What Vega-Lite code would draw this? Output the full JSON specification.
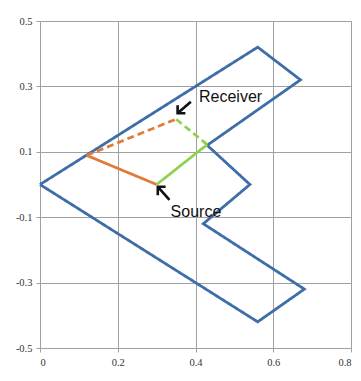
{
  "$schema": "https://vega.github.io/schema/vega-lite/v6.json",
  "autosize": {"type": "none"},
  "width": 311,
  "height": 327,
  "padding": {"left": 40, "top": 21, "right": 10, "bottom": 33},
  "background": "white",
  "config": {
    "view": {"stroke": null},
    "axis": {
      "gridColor": "#a0a0a0",
      "gridWidth": 1,
      "domain": false,
      "tickColor": "#a0a0a0",
      "tickSize": 4,
      "labelFont": "Liberation Sans Narrow",
      "labelFontSize": 10.5,
      "labelColor": "#333333",
      "title": null
    }
  },
  "datasets": {
    "lines": [
      {"s": "wall", "o": 0, "x": 0, "y": 0},
      {"s": "wall", "o": 1, "x": 0.56, "y": 0.42},
      {"s": "wall", "o": 2, "x": 0.67, "y": 0.32},
      {"s": "wall", "o": 3, "x": 0.43, "y": 0.12},
      {"s": "wall", "o": 4, "x": 0.54, "y": 0.0},
      {"s": "wall", "o": 5, "x": 0.42, "y": -0.12},
      {"s": "wall", "o": 6, "x": 0.68, "y": -0.32},
      {"s": "wall", "o": 7, "x": 0.56, "y": -0.42},
      {"s": "wall", "o": 8, "x": 0, "y": 0},
      {"s": "orange_solid", "o": 0, "x": 0.30, "y": 0.0},
      {"s": "orange_solid", "o": 1, "x": 0.12, "y": 0.089},
      {"s": "orange_dash", "o": 0, "x": 0.12, "y": 0.089},
      {"s": "orange_dash", "o": 1, "x": 0.35, "y": 0.2},
      {"s": "green_solid", "o": 0, "x": 0.30, "y": 0.0},
      {"s": "green_solid", "o": 1, "x": 0.43, "y": 0.122},
      {"s": "green_dash", "o": 0, "x": 0.43, "y": 0.122},
      {"s": "green_dash", "o": 1, "x": 0.35, "y": 0.2},
      {"s": "arr_r_shaft", "o": 0, "x": 0.388, "y": 0.253},
      {"s": "arr_r_shaft", "o": 1, "x": 0.354, "y": 0.218},
      {"s": "arr_r_head", "o": 0, "x": 0.354, "y": 0.242},
      {"s": "arr_r_head", "o": 1, "x": 0.354, "y": 0.218},
      {"s": "arr_r_head", "o": 2, "x": 0.374, "y": 0.218},
      {"s": "arr_s_shaft", "o": 0, "x": 0.333, "y": -0.047},
      {"s": "arr_s_shaft", "o": 1, "x": 0.303, "y": -0.007},
      {"s": "arr_s_head", "o": 0, "x": 0.303, "y": -0.033},
      {"s": "arr_s_head", "o": 1, "x": 0.303, "y": -0.007},
      {"s": "arr_s_head", "o": 2, "x": 0.323, "y": -0.007}
    ],
    "labels": [
      {"t": "Receiver", "x": 0.409, "y": 0.268},
      {"t": "Source", "x": 0.336, "y": -0.085}
    ]
  },
  "layer": [
    {
      "data": {"name": "lines"},
      "mark": {"type": "line", "strokeJoin": "miter", "strokeCap": "butt"},
      "encoding": {
        "x": {
          "field": "x", "type": "quantitative",
          "scale": {"domain": [0, 0.8], "nice": false, "zero": false},
          "axis": {"values": [0, 0.2, 0.4, 0.6, 0.8], "labelExpr": "datum.value + ''", "labelPadding": 5}
        },
        "y": {
          "field": "y", "type": "quantitative",
          "scale": {"domain": [-0.5, 0.5], "nice": false, "zero": false},
          "axis": {"values": [-0.5, -0.3, -0.1, 0.1, 0.3, 0.5], "labelExpr": "datum.value + ''", "labelPadding": 4}
        },
        "detail": {"field": "s"},
        "order": {"field": "o", "type": "quantitative"},
        "color": {
          "field": "s", "type": "nominal", "legend": null,
          "scale": {
            "domain": ["wall", "orange_solid", "orange_dash", "green_solid", "green_dash", "arr_r_shaft", "arr_r_head", "arr_s_shaft", "arr_s_head"],
            "range": ["#3e6da8", "#e07b39", "#e07b39", "#8fd14f", "#8fd14f", "#111111", "#111111", "#111111", "#111111"]
          }
        },
        "strokeDash": {
          "field": "s", "type": "nominal", "legend": null,
          "scale": {
            "domain": ["wall", "orange_solid", "orange_dash", "green_solid", "green_dash", "arr_r_shaft", "arr_r_head", "arr_s_shaft", "arr_s_head"],
            "range": [[1, 0], [1, 0], [7, 4], [1, 0], [7, 4], [1, 0], [1, 0], [1, 0], [1, 0]]
          }
        },
        "strokeWidth": {
          "field": "s", "type": "nominal", "legend": null,
          "scale": {
            "domain": ["wall", "orange_solid", "orange_dash", "green_solid", "green_dash", "arr_r_shaft", "arr_r_head", "arr_s_shaft", "arr_s_head"],
            "range": [2.8, 2.6, 2.6, 2.6, 2.6, 1.3, 1.3, 1.3, 1.3]
          }
        }
      }
    },
    {
      "data": {"name": "labels"},
      "mark": {"type": "text", "align": "left", "baseline": "middle", "font": "Liberation Sans", "fontSize": 16, "color": "#111111"},
      "encoding": {
        "x": {"field": "x", "type": "quantitative"},
        "y": {"field": "y", "type": "quantitative"},
        "text": {"field": "t"}
      }
    }
  ]
}
